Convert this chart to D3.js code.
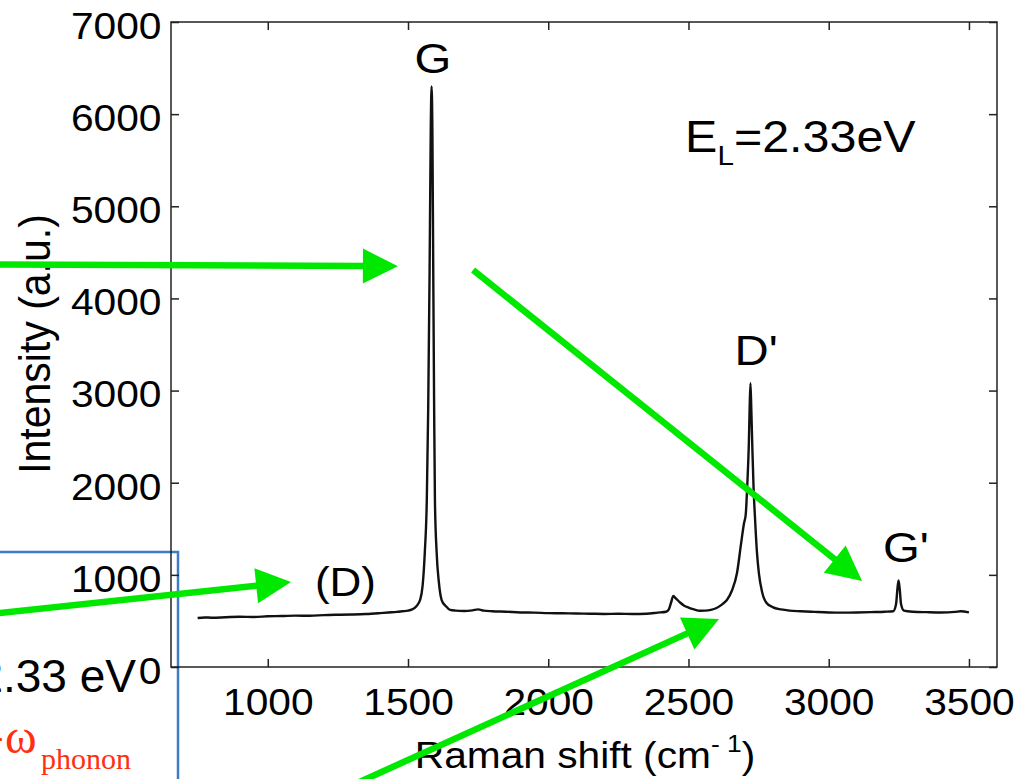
<!DOCTYPE html>
<html>
<head>
<meta charset="utf-8">
<script src="https://cdn.jsdelivr.net/npm/d3@7"></script>
<style>
  html, body { margin: 0; padding: 0; background: #fff; overflow: hidden; }
  svg { display: block; }
</style>
</head>
<body>
<svg id="chart" width="1035" height="779"></svg>
<script>
// Raman spectrum of graphite, laser excitation 2.33 eV
const ramanShift = [
  750, 775, 800, 850, 900, 950, 1000, 1050, 1100, 1150, 1200, 1250, 1300, 1350,
  1400, 1430, 1460, 1480, 1500, 1513, 1530, 1543, 1552, 1560, 1567, 1572, 1577,
  1581, 1584, 1587, 1590, 1593, 1596, 1602, 1610, 1620, 1635, 1650, 1670, 1700,
  1730, 1750, 1770, 1800, 1850, 1900, 1950, 2000, 2050, 2100, 2150, 2200, 2250,
  2300, 2350, 2390, 2420, 2430, 2438, 2446, 2455, 2470, 2485, 2500, 2520, 2541,
  2560, 2580, 2600, 2620, 2637, 2655, 2673, 2688, 2698, 2704, 2710, 2715, 2718,
  2721, 2724, 2728, 2732, 2737, 2744, 2751, 2762, 2777, 2800, 2830, 2860, 2900,
  2950, 3000, 3050, 3100, 3150, 3200, 3230, 3240, 3245, 3249, 3253, 3258, 3268,
  3300, 3350, 3400, 3450, 3470, 3500
];
const intensity = [
  532, 538, 535, 540, 545, 543, 550, 553, 558, 556, 563, 567, 570, 575,
  585, 592, 598, 605, 612, 622, 660, 727, 880, 1250, 1810, 2800, 4300,
  5800, 6300, 5800, 4300, 2900, 1810, 1250, 920, 727, 660, 620, 612, 608,
  615, 625, 612, 605, 600, 592, 590, 585, 583, 580, 578, 576, 578,
  575, 578, 590, 600, 625, 700, 771, 745, 700, 665, 645, 625, 611,
  612, 620, 640, 680, 727, 830, 1020, 1350, 1560, 1650, 2000, 2400, 2800,
  3080, 2800, 2350, 1950, 1630, 1250, 1020, 820, 700, 650, 625, 612, 605,
  598, 592, 590, 592, 596, 600, 605, 680, 850, 940, 850, 680, 612,
  600, 595, 592, 598, 605, 592
];

const xTicks = [1000, 1500, 2000, 2500, 3000, 3500];
const yTicks = [0, 1000, 2000, 3000, 4000, 5000, 6000, 7000];

// Band labels, anchored in data units (Raman shift, intensity)
const bandNames = ["G", "D'", "G'", "(D)"];
const bandLabelShift = [1589, 2741, 3275, 1277];
const bandLabelIntensity = [6447, 3277, 1140, 771];

// Pointer arrows, start and tip in data units
const arrowStart = [[27, 4368], [1732, 4308], [27, 581], [1311, -1270]];
const arrowTip   = [[1464, 4350], [3119, 933], [1083, 922], [2609, 521]];

const svg = d3.select("#chart");
const W = 1035, H = 779;
const plot = { left: 171, top: 22, right: 997, bottom: 667 };
const SX = 1.1;              // figure lettering is slightly wide
const SANS = "'Liberation Sans', Arial, Helvetica, sans-serif";
const SERIF = "'Liberation Serif', 'Times New Roman', serif";
const GREEN = "#00e800";

const x = d3.scaleLinear().domain([655, 3600]).range([plot.left, plot.right]);
const y = d3.scaleLinear().domain([0, 7000]).range([plot.bottom, plot.top]);

svg.append("rect").attr("width", W).attr("height", H).attr("fill", "#fff");

// Slide frame in the lower-left corner
svg.append("rect")
  .attr("x", -20).attr("y", 552).attr("width", 198).attr("height", 320)
  .attr("fill", "none").attr("stroke", "#3d7cc6").attr("stroke-width", 2.5);

// Axes with inward ticks on all four sides
function styleAxis(g) {
  g.select(".domain").remove();
  g.selectAll(".tick line").attr("stroke", "#222").attr("stroke-width", 1.5);
}

const gx = svg.append("g").attr("transform", `translate(0,${plot.bottom})`)
  .call(d3.axisBottom(x).tickValues(xTicks).tickSize(-8).tickFormat(d3.format("d")))
  .call(styleAxis);
gx.selectAll(".tick text")
  .attr("y", 48).attr("dy", 0)
  .attr("transform", `scale(${SX},1)`)
  .attr("font-family", SANS).attr("font-size", 37).attr("fill", "#000");

svg.append("g").attr("transform", `translate(0,${plot.top})`)
  .call(d3.axisTop(x).tickValues(xTicks).tickSize(-8).tickFormat(""))
  .call(styleAxis);

const gy = svg.append("g").attr("transform", `translate(${plot.left},0)`)
  .call(d3.axisLeft(y).tickValues(yTicks).tickSize(-8).tickFormat(d3.format("d")))
  .call(styleAxis);
gy.selectAll(".tick text")
  .attr("x", -9.5 / SX).attr("dy", "0.44em")
  .attr("transform", `scale(${SX},1)`)
  .attr("font-family", SANS).attr("font-size", 37).attr("fill", "#000");

svg.append("g").attr("transform", `translate(${plot.right},0)`)
  .call(d3.axisRight(y).tickValues(yTicks).tickSize(-8).tickFormat(""))
  .call(styleAxis);

svg.append("rect")
  .attr("x", plot.left).attr("y", plot.top)
  .attr("width", plot.right - plot.left).attr("height", plot.bottom - plot.top)
  .attr("fill", "none").attr("stroke", "#222").attr("stroke-width", 1.5);

// Spectrum
const spectrum = ramanShift.map((s, i) => [s, intensity[i]]);
svg.append("path")
  .datum(spectrum)
  .attr("fill", "none").attr("stroke", "#111").attr("stroke-width", 2.4)
  .attr("stroke-linejoin", "round")
  .attr("d", d3.line().x(d => x(d[0])).y(d => y(d[1])).curve(d3.curveMonotoneX));

// Text helper: horizontally widened lettering around an anchor point
function wideText(px, py, size, anchor) {
  return svg.append("g").attr("transform", `translate(${px},${py}) scale(${SX},1)`)
    .append("text")
    .attr("font-family", SANS).attr("font-size", size)
    .attr("text-anchor", anchor).attr("fill", "#000");
}

// Band labels
bandNames.forEach((name, i) => {
  const size = name === "(D)" ? 40 : 43;
  wideText(x(bandLabelShift[i]), y(bandLabelIntensity[i]), size, "middle").text(name);
});

// Excitation energy
const el = wideText(x(2488), y(5592), 44, "start");
el.append("tspan").text("E");
el.append("tspan").attr("font-size", 27).attr("dy", 13).text("L");
el.append("tspan").attr("dy", -13).text("=2.33eV");

// Axis titles
const xt = wideText((plot.left + plot.right) / 2 + 1, 768, 37, "middle");
xt.append("tspan").text("Raman shift (cm");
xt.append("tspan").attr("font-size", 24).attr("dy", -16).text("- 1");
xt.append("tspan").attr("dy", 16).text(")");

svg.append("g").attr("transform", `translate(50,344) scale(${SX},1) rotate(-90)`)
  .append("text")
  .attr("font-family", SANS).attr("font-size", 41)
  .attr("text-anchor", "middle").attr("fill", "#000")
  .text("Intensity (a.u.)");

// Slide text in the lower-left corner
svg.append("text")
  .attr("x", 136).attr("y", 692)
  .attr("font-family", SANS).attr("font-size", 46).attr("text-anchor", "end")
  .attr("fill", "#000").text("2.33 eV");

const red = svg.append("text")
  .attr("x", 6).attr("y", 753)
  .attr("font-family", SERIF).attr("font-size", 48).attr("fill", "#ff3010");
red.append("tspan").attr("x", -10).attr("dy", -4).attr("font-size", 40).text("-");
red.append("tspan").attr("x", 5).attr("dy", 4).text("ω");
red.append("tspan").attr("x", 41).attr("font-size", 30).attr("dy", 16).text("phonon");

// Green pointer arrows
const headLen = 35, headHalf = 17.5;
arrowStart.forEach((s, i) => {
  const x0 = x(s[0]), y0 = y(s[1]);
  const x1 = x(arrowTip[i][0]), y1 = y(arrowTip[i][1]);
  const dx = x1 - x0, dy = y1 - y0, len = Math.hypot(dx, dy);
  const ux = dx / len, uy = dy / len;
  const bx = x1 - ux * headLen, by = y1 - uy * headLen;
  svg.append("line")
    .attr("x1", x0).attr("y1", y0).attr("x2", bx + ux * 2).attr("y2", by + uy * 2)
    .attr("stroke", GREEN).attr("stroke-width", 6.5);
  svg.append("polygon")
    .attr("points", [
      [x1, y1],
      [bx - uy * headHalf, by + ux * headHalf],
      [bx + uy * headHalf, by - ux * headHalf]
    ].map(p => p.join(",")).join(" "))
    .attr("fill", GREEN);
});
</script>
</body>
</html>
